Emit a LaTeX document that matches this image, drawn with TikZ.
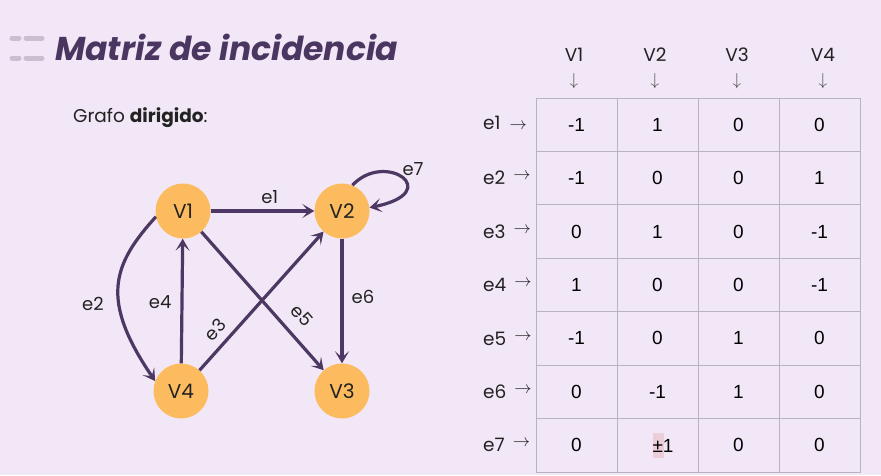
\documentclass[tikz,border=0pt]{standalone}
\usepackage{fontspec}
\setmainfont{Poppins}
\newfontfamily\cellfont{Liberation Sans}
\usetikzlibrary{arrows.meta}
\definecolor{bg}{HTML}{F2E7F6}
\definecolor{nodefill}{HTML}{FCBB5E}
\definecolor{edgec}{HTML}{4D3763}
\definecolor{titlec}{HTML}{4A3660}
\definecolor{gridc}{HTML}{BAB2C1}
\definecolor{dashc}{HTML}{C9BFD0}
\definecolor{txt}{HTML}{222222}
\definecolor{hl}{HTML}{ECCEDB}
\begin{document}
\begin{tikzpicture}[x=1pt,y=-1pt,
  vert/.style={circle, fill=nodefill, minimum size=55pt, inner sep=0pt, font=\fontsize{20}{20}\selectfont, text=txt},
  edge/.style={draw=edgec, line width=3.2pt, -{Stealth[length=12pt,width=14pt,inset=6pt]}},
  elabel/.style={font=\fontsize{18}{18}\selectfont, text=txt, inner sep=1pt},
  cell/.style={draw=gridc, line width=1pt, minimum width=81pt, minimum height=53.43pt, inner sep=0pt, font=\cellfont\fontsize{19}{19}\selectfont, text=black},
  rowlab/.style={anchor=west, inner sep=0pt, font=\fontsize{18.5}{18.5}\selectfont, text=txt},
  collab/.style={inner sep=0pt, font=\fontsize{18.5}{18.5}\selectfont, text=txt},
  downarr/.style={inner sep=0pt, font=\fontsize{17}{17}\selectfont, text=txt!80},
  dashmark/.style={draw=dashc, line width=5pt, line cap=round}
]
\useasboundingbox[fill=bg] (0,0) rectangle (881,475);

% title
\draw[dashmark] (12,38) -- (19,38);
\draw[dashmark] (26,38) -- (42,38);
\draw[dashmark] (12,58) -- (19,58);
\draw[dashmark] (26,58) -- (42,58);
\node[anchor=west, inner sep=0pt, text=titlec, font=\fontsize{33}{33}\selectfont\bfseries\itshape] (title) at (55,47) {Matriz de incidencia};

\node[anchor=west, inner sep=0pt, text=txt, font=\fontsize{18.5}{18.5}\selectfont] (sub) at (73,118) {Grafo \textbf{dirigido}:};

% graph
\node[vert] (V1) at (183,211) {V1};
\node[vert] (V2) at (342,211) {V2};
\node[vert] (V3) at (342,391) {V3};
\node[vert] (V4) at (181,391) {V4};

\draw[edge] (V1) -- node[elabel, pos=0.57, above=5pt] (l1) {e1} (V2);
\draw[edge] (V1.192) .. controls (112,265) and (100,300) .. (V4.159);
\node[elabel] (l2) at (93,304) {e2};
\draw[edge] (V4) -- node[elabel, pos=0.22, sloped, above=6pt] (l3) {e3} (V2);
\draw[edge] (V4) -- node[elabel, pos=0.49, left=8pt] (l4) {e4} (V1);
\draw[edge] (V1) -- node[elabel, pos=0.70, sloped, above=11pt] (l5) {e5} (V3);
\draw[edge] (V2) -- node[elabel, pos=0.47, right=7pt] (l6) {e6} (V3);
\draw[edge] (V2.68) .. controls (385,150) and (446,192) .. (V2.7);
\node[elabel] (l7) at (413,169) {e7};

% table header
\foreach \x/\n in {574/1,655/2,737/3,823/4}{
  \node[collab] (h\n) at (\x,55) {V\n};
  \node[downarr] (d\n) at (\x,81) {$\downarrow$};
}

% table cells
\foreach \r/\a/\b/\c/\d in {1/-1/1/0/0, 2/-1/0/0/1, 3/0/1/0/-1, 4/1/0/0/-1, 5/-1/0/1/0, 6/0/-1/1/0, 7/0/{}/0/0}{
  \foreach \col/\v in {1/\a,2/\b,3/\c,4/\d}{
    \node[cell] (c\r\col) at ({536+81*(\col-0.5)},{98+53.43*(\r-0.5)}) {\v};
  }
}
\fill[hl] (653,433) rectangle (664,458);
\node[inner sep=0pt, font=\cellfont\fontsize{19}{19}\selectfont, text=black] (pm) at (663,446) {±1};

% row labels
\node[rowlab] (r1) at (483,123) {e1\hspace{9pt}$\rightarrow$};
\foreach \r in {2,...,7}{
  \node[rowlab] (r\r) at (483,{98+53.43*(\r-0.5)}) {e\r\hspace{8pt}\raisebox{5pt}{$\rightarrow$}};
}
\end{tikzpicture}
\end{document}
